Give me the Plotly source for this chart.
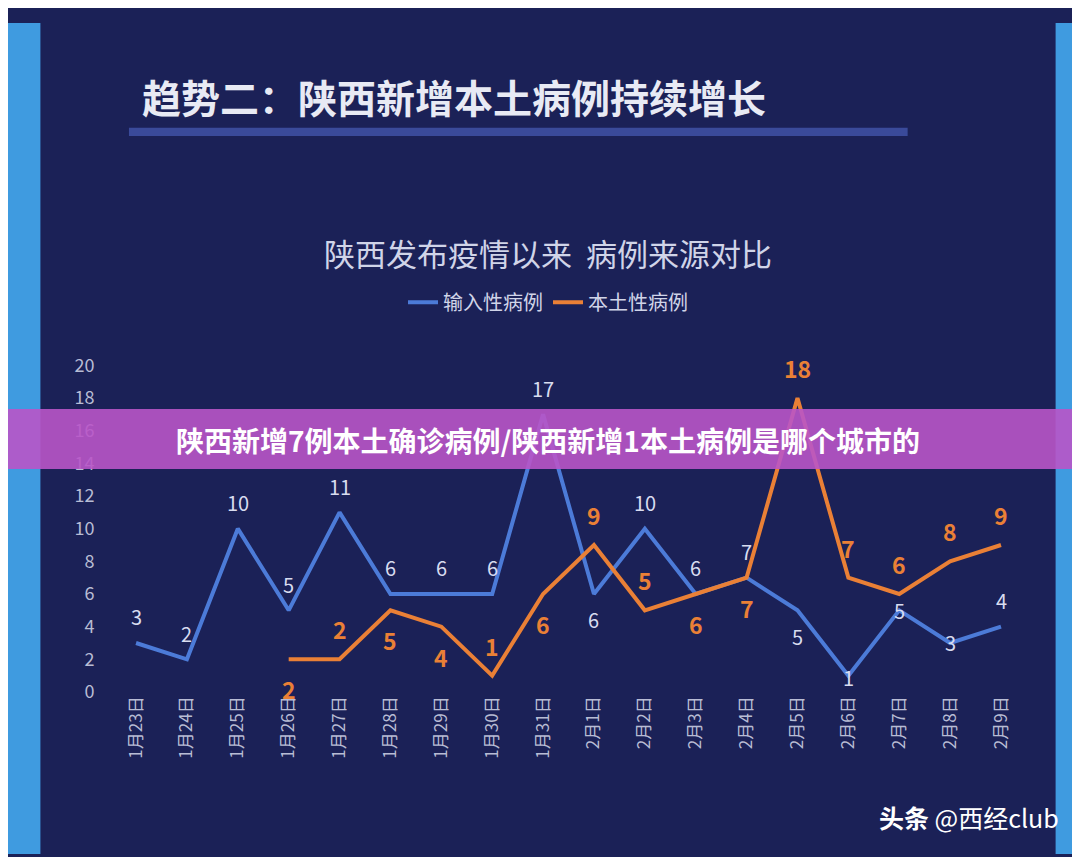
import plotly.graph_objects as go

dates = ["1月23日","1月24日","1月25日","1月26日","1月27日","1月28日","1月29日","1月30日","1月31日",
         "2月1日","2月2日","2月3日","2月4日","2月5日","2月6日","2月7日","2月8日","2月9日"]
imported = [3,2,10,5,11,6,6,6,17,6,10,6,7,5,1,5,3,4]
local_dates = dates[3:]
local = [2,2,5,4,1,6,9,5,6,7,18,7,6,8,9]
# label offsets in px
imp_shift = [26,26,26,26,26,26,26,26,26,-26,26,26,26,-26,-2,0,0,26]
loc_shift = [-30,30,-30,-30,30,-30,30,30,-30,-30,30,30,30,30,30]

BLUE = "#4c7bd8"; ORANGE = "#ea8036"
fig = go.Figure()
fig.add_trace(go.Scatter(x=dates, y=imported, mode="lines", name="输入性病例",
    line=dict(color=BLUE, width=4)))
fig.add_trace(go.Scatter(x=local_dates, y=local, mode="lines", name="本土性病例",
    line=dict(color=ORANGE, width=4)))

anns = []
for d, v, s in zip(dates, imported, imp_shift):
    anns.append(dict(x=d, y=v, text=str(v), showarrow=False, yshift=s,
                     font=dict(size=20, color="#d8dcf0")))
for d, v, s in zip(local_dates, local, loc_shift):
    anns.append(dict(x=d, y=v, text="<b>%d</b>" % v, showarrow=False, yshift=s,
                     font=dict(size=23, color=ORANGE)))

anns += [
    dict(text="<b>趋势二：陕西新增本土病例持续增长</b>", x=0.122, y=0.912, xref="paper", yref="paper",
         xanchor="left", yanchor="middle", showarrow=False, font=dict(size=39, color="#e8eaf4")),
    dict(text="陕西发布疫情以来  病例来源对比", x=0.5, y=0.724, xref="paper", yref="paper",
         xanchor="center", yanchor="middle", showarrow=False, font=dict(size=31, color="#d0d4e8")),
    dict(text="<b>陕西新增7例本土确诊病例/陕西新增1本土病例是哪个城市的</b>", x=0.5,
         y=(857-430)/857, xref="paper", yref="paper", xanchor="center", yanchor="middle",
         showarrow=False, font=dict(size=28, color="white")),
    dict(text="<b>头条</b> @西经club", x=0.975, y=0.045, xref="paper", yref="paper",
         xanchor="right", yanchor="middle", showarrow=False, font=dict(size=25, color="white")),
]

fig.update_layout(
    width=1080, height=857, margin=dict(l=0, r=0, t=0, b=0),
    paper_bgcolor="#1b2157", plot_bgcolor="rgba(0,0,0,0)",
    font=dict(family="Noto Sans CJK SC", color="#c8cce0"),
    showlegend=True,
    legend=dict(orientation="h", x=0.5, xanchor="center", y=0.664, yanchor="middle",
                font=dict(size=20, color="#d0d4e8"), bgcolor="rgba(0,0,0,0)"),
    xaxis=dict(domain=[0.095, 0.943], range=[-0.5, 17.5], tickangle=-90, showgrid=False,
               tickfont=dict(size=17, color="#b8bcd4"), showline=False, zeroline=False),
    yaxis=dict(domain=[0.195, 0.588], range=[0, 20], dtick=2, showgrid=False, zeroline=False,
               tickfont=dict(size=18, color="#b8bcd4"), anchor="free", position=0.08),
    shapes=[
        dict(type="rect", xref="paper", yref="paper", x0=0, x1=0.03, y0=0, y1=1,
             fillcolor="#3f9be0", line_width=0, layer="below"),
        dict(type="rect", xref="paper", yref="paper", x0=0.97, x1=1, y0=0, y1=1,
             fillcolor="#3f9be0", line_width=0, layer="below"),
        dict(type="rect", xref="paper", yref="paper", x0=0.112, x1=0.833, y0=0.864, y1=0.874,
             fillcolor="#3a4a9a", line_width=0),
        dict(type="rect", xref="paper", yref="paper", x0=0, x1=1, y0=(857-460)/857, y1=(857-398)/857,
             fillcolor="rgba(185,85,200,0.9)", line_width=0, layer="above"),
    ],
    annotations=anns,
)
fig.write_html("out.html")
